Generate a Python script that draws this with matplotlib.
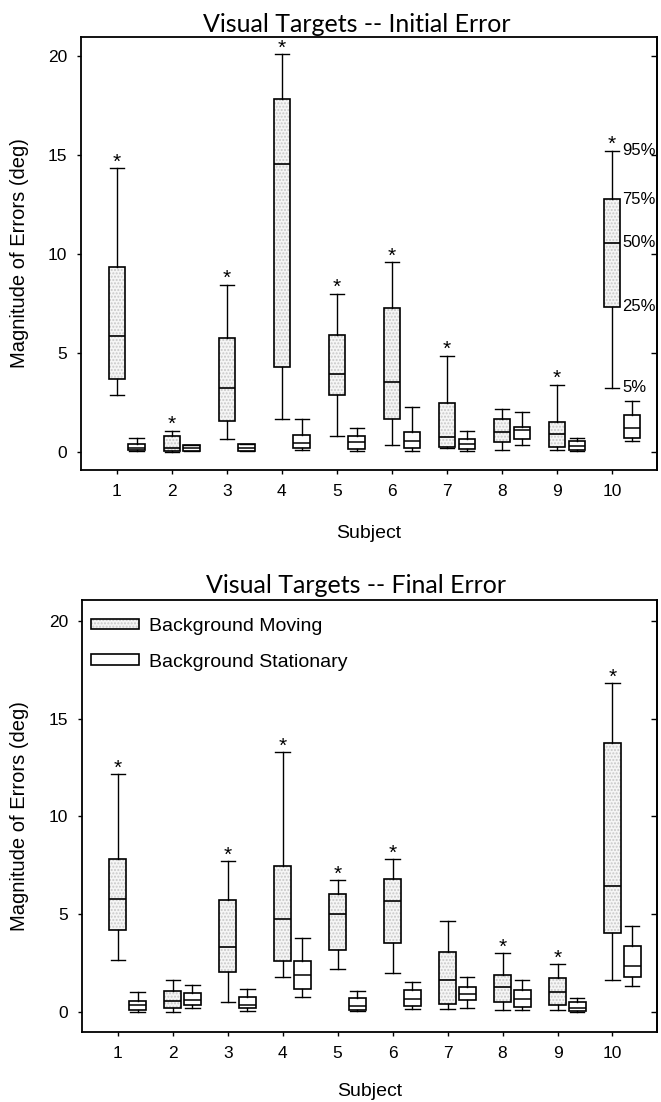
import matplotlib
matplotlib.use("Agg")
import matplotlib.pyplot as plt
from matplotlib.patches import Patch, PathPatch
from matplotlib.legend_handler import HandlerTuple

plt.rcParams['font.family'] = ['Liberation Sans', 'DejaVu Sans']

subjects = [1, 2, 3, 4, 5, 6, 7, 8, 9, 10]
tick_labels = ['1', '2', '3', '4', '5', '6', '7', '8', '9', '10']
y_ticks = [0, 5, 10, 15, 20]

# ---- Initial error, background moving (percentiles 5, 25, 50, 75, 95)
init_mov_p5  = [2.88, 0.00, 0.61, 1.64, 0.80, 0.34, 0.17, 0.07, 0.07, 3.22]
init_mov_p25 = [3.68, 0.03, 1.55, 4.26, 2.88, 1.65, 0.24, 0.49, 0.22, 7.33]
init_mov_p50 = [5.83, 0.20, 3.24, 14.55, 3.92, 3.53, 0.73, 1.00, 0.90, 10.58]
init_mov_p75 = [9.32, 0.78, 5.74, 17.84, 5.91, 7.26, 2.47, 1.65, 1.47, 12.76]
init_mov_p95 = [14.35, 1.06, 8.45, 20.10, 8.00, 9.57, 4.86, 2.13, 3.39, 15.23]
# ---- Initial error, background stationary
init_sta_p5  = [0.05, 0.02, 0.03, 0.07, 0.03, 0.03, 0.03, 0.34, 0.03, 0.53]
init_sta_p25 = [0.07, 0.03, 0.05, 0.17, 0.12, 0.20, 0.12, 0.61, 0.07, 0.68]
init_sta_p50 = [0.20, 0.17, 0.20, 0.43, 0.48, 0.55, 0.36, 1.09, 0.29, 1.19]
init_sta_p75 = [0.37, 0.32, 0.37, 0.83, 0.77, 0.99, 0.61, 1.23, 0.53, 1.84]
init_sta_p95 = [0.68, 0.34, 0.39, 1.64, 1.21, 2.25, 1.06, 1.99, 0.68, 2.57]
init_sig = [1, 2, 3, 4, 5, 6, 7, 9, 10]

# ---- Final error, background moving
final_mov_p5  = [2.66, 0.02, 0.49, 1.77, 2.21, 1.98, 0.17, 0.12, 0.12, 1.65]
final_mov_p25 = [4.19, 0.19, 2.06, 2.62, 3.15, 3.54, 0.43, 0.49, 0.36, 4.04]
final_mov_p50 = [5.78, 0.56, 3.30, 4.75, 4.99, 5.67, 1.65, 1.28, 1.00, 6.46]
final_mov_p75 = [7.82, 1.07, 5.71, 7.44, 6.03, 6.80, 3.08, 1.89, 1.74, 13.74]
final_mov_p95 = [12.17, 1.62, 7.70, 13.28, 6.73, 7.80, 4.63, 3.02, 2.44, 16.80]
# ---- Final error, background stationary
final_sta_p5  = [0.02, 0.19, 0.05, 0.75, 0.05, 0.17, 0.19, 0.12, 0.02, 1.35]
final_sta_p25 = [0.12, 0.34, 0.22, 1.19, 0.09, 0.32, 0.61, 0.24, 0.05, 1.79]
final_sta_p50 = [0.34, 0.60, 0.37, 1.87, 0.32, 0.66, 0.94, 0.65, 0.22, 2.37]
final_sta_p75 = [0.56, 0.99, 0.75, 2.62, 0.72, 1.12, 1.28, 1.11, 0.49, 3.37]
final_sta_p95 = [1.02, 1.36, 1.16, 3.76, 1.09, 1.53, 1.77, 1.65, 0.70, 4.41]
final_sig = [1, 3, 4, 5, 6, 8, 9, 10]

pct_labels = ['5%', '25%', '50%', '75%', '95%']

W, H = 661, 1102
fig = plt.figure(figsize=(W / 100, H / 100), dpi=100)

MOV_FACE = '#f6f6f6'
HATCH_COL = '#c8c8c8'


def stats(p5, p25, p50, p75, p95):
    return [dict(whislo=a, q1=b, med=c, q3=d, whishi=e, fliers=[])
            for a, b, c, d, e in zip(p5, p25, p50, p75, p95)]


def panel(rect, ylim, mov, sta, sig, title, title_y, ylabel_x, xlabel_y, annotate=False, legend=False):
    ax = fig.add_axes(rect)
    line_kw = dict(color='black', linewidth=1.0)
    smov = stats(*mov)
    ssta = stats(*sta)
    pos_m = subjects
    pos_s = [s + 0.36 for s in subjects]
    bm = ax.bxp(smov, positions=pos_m, widths=0.3, capwidths=0.26, patch_artist=True,
                showfliers=False, manage_ticks=False,
                boxprops=dict(facecolor='none', edgecolor='black', linewidth=1.2),
                medianprops=dict(color='black', linewidth=1.2),
                whiskerprops=line_kw, capprops=line_kw)
    for box in bm['boxes']:
        ax.add_patch(PathPatch(box.get_path(), facecolor=MOV_FACE, edgecolor=HATCH_COL,
                               hatch='.....', linewidth=0, zorder=1.9))
    ax.bxp(ssta, positions=pos_s, widths=0.3, capwidths=0.26, patch_artist=True,
           showfliers=False, manage_ticks=False,
           boxprops=dict(facecolor='white', edgecolor='black', linewidth=1.2),
           medianprops=dict(color='black', linewidth=1.1),
           whiskerprops=line_kw, capprops=line_kw)
    for s in sig:
        i = subjects.index(s)
        ax.text(pos_m[i], mov[4][i] + 0.02, '*', ha='center', va='baseline',
                fontsize=15, color='black')
    if annotate:
        j = len(subjects) - 1
        for lab, arr in zip(pct_labels, mov):
            ax.text(pos_m[j] + 0.19, arr[j], lab, ha='left', va='center', fontsize=12)
    ax.set_xlim(0.35, 10.81)
    ax.set_ylim(*ylim)
    ax.set_xticks(subjects)
    ax.set_xticklabels(tick_labels)
    ax.set_yticks(y_ticks)
    ax.tick_params(axis='both', direction='out', length=3, width=1.0, labelsize=12.5)
    ax.tick_params(axis='x', pad=7)
    ax.tick_params(axis='y', pad=7)
    sec = ax.secondary_yaxis('right')
    sec.set_yticks(y_ticks)
    sec.tick_params(direction='in', length=4, width=1.0, labelright=False)
    sec.spines['right'].set_linewidth(1.3)
    for sp in ax.spines.values():
        sp.set_linewidth(1.3)
    ax.set_ylabel('Magnitude of Errors (deg)', fontsize=14.5, va='center')
    ax.yaxis.set_label_coords(ylabel_x, 0.5)
    ax.set_xlabel('Subject', fontsize=14, va='center')
    ax.xaxis.set_label_coords(0.5, xlabel_y)
    fig.text(0.539, title_y, title, ha='center', va='baseline', fontsize=18,
             family=['Lato', 'Liberation Sans', 'DejaVu Sans'], color='black')
    if legend:
        h1 = (Patch(facecolor=MOV_FACE, edgecolor=HATCH_COL, hatch='.....', linewidth=0),
              Patch(facecolor='none', edgecolor='black', linewidth=1.2))
        h2 = Patch(facecolor='white', edgecolor='black', linewidth=1.2)
        ax.legend([h1, h2], ['Background Moving', 'Background Stationary'],
                  handler_map={tuple: HandlerTuple(ndivide=1)},
                  loc='upper left', bbox_to_anchor=(0.015, 0.958), frameon=False,
                  fontsize=14, handlelength=2.5, handleheight=0.45, handletextpad=0.5,
                  labelspacing=0.95, borderpad=0, borderaxespad=0)
    return ax


panel([81 / W, 1 - 470.3 / H, 575.7 / W, 433.6 / H], (-0.95, 21.0),
      [init_mov_p5, init_mov_p25, init_mov_p50, init_mov_p75, init_mov_p95],
      [init_sta_p5, init_sta_p25, init_sta_p50, init_sta_p75, init_sta_p95],
      init_sig, 'Visual Targets -- Initial Error', 1 - 32 / H, -0.106, -0.145,
      annotate=True)

panel([82 / W, 1 - 1032.3 / H, 575 / W, 432.3 / H], (-1.04, 21.07),
      [final_mov_p5, final_mov_p25, final_mov_p50, final_mov_p75, final_mov_p95],
      [final_sta_p5, final_sta_p25, final_sta_p50, final_sta_p75, final_sta_p95],
      final_sig, 'Visual Targets -- Final Error', 1 - 593.3 / H, -0.108, -0.137,
      legend=True)

fig.savefig('out.png', dpi=100)
